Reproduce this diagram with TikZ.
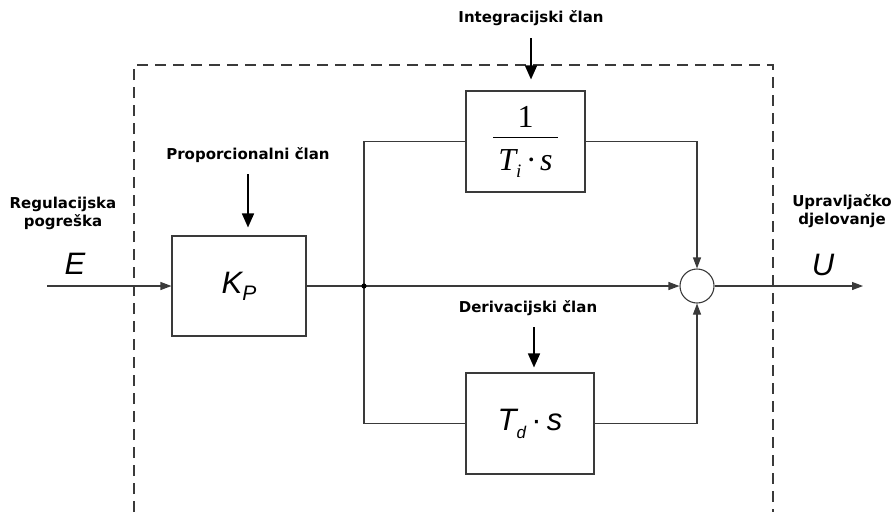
\documentclass[tikz,border=0pt]{standalone}
\usepackage{fontspec}
\newfontfamily\labelfont{DejaVu Sans}
\newfontfamily\sansmath{Liberation Sans}
\newfontfamily\serifmath{Liberation Serif}
\usetikzlibrary{arrows.meta}
\definecolor{wirecol}{HTML}{3A3A3A}

\begin{document}
\begin{tikzpicture}[x=1pt, y=-1pt,
    wire/.style={draw=wirecol, line width=1.1pt},
    sig/.style={wire, -{Triangle[length=11pt,width=8pt]}},
    hint/.style={line width=1.6pt, -{Triangle[length=14pt,width=12pt]}},
    block/.style={draw=wirecol, line width=1.1pt, inner sep=0pt},
    caption/.style={font=\labelfont\bfseries\fontsize{15}{18}\selectfont, align=center},
    bigsym/.style={font=\sansmath\itshape\fontsize{31}{31}\selectfont}]

      \useasboundingbox (0,0) rectangle (893,512);

      % controller border
      \draw[wirecol, line width=1.2pt, dash pattern=on 11pt off 7pt] (134,512) |- (773,65) -- (773,512);

      % blocks
      \node[block, minimum width=134pt, minimum height=100pt] (kp) at (239,286)
        {\sansmath\itshape\fontsize{31}{31}\selectfont K\raisebox{-7pt}{\fontsize{21}{21}\selectfont P}};
      \node[block, minimum width=119pt, minimum height=101pt] (int) at (525.5,141.5)
        {\serifmath\fontsize{32}{32}\selectfont$\displaystyle\frac{\hbox{1\rule[-7pt]{0pt}{7pt}}}{\hbox{\kern5pt\rule{0pt}{31pt}\itshape T\raisebox{-7pt}{\fontsize{19}{19}\selectfont i}\,\char"00B7\,s\kern5pt}}$};
      \node[block, minimum width=128pt, minimum height=101pt] (der) at (530,423.5)
        {\sansmath\itshape\fontsize{31}{31}\selectfont T\raisebox{-8pt}{\fontsize{17}{17}\selectfont d}\,\upshape\char"00B7\,\itshape s};
      \node[block, circle, minimum size=34pt] (sum) at (697,286) {};

      \coordinate (in) at (47,286);
      \coordinate (out) at (863,286);
      \coordinate (split) at (364,286);

      % signal lines
      \draw[sig] (in) -- (kp.west);
      \draw[wire] (kp.east) -- (split);
      \draw[sig] (split) -- (sum.west);
      \draw[wire] (split) |- (int.west);
      \draw[wire] (split) |- (der.west);
      \draw[sig] (int.east) -| (sum.north);
      \draw[sig] (der.east) -| (sum.south);
      \draw[sig] (sum.east) -- (out);
      \fill (split) circle (2.6pt);

      % captions
      \node[caption] (intlbl) at (531,18) {Integracijski član};
      \node[caption] (kplbl) at (248,155) {Proporcionalni član};
      \node[caption] (derlbl) at (528,308) {Derivacijski član};
      \node[caption] (errlbl) at (63,213) {Regulacijska\\pogreška};
      \node[caption] (outlbl) at (842,211) {Upravljačko\\djelovanje};
      \node[bigsym] (E) at (75,264) {E};
      \node[bigsym] (U) at (823,265) {U};

      \coordinate (intarr) at (531,38);
      \coordinate (kparr) at (248,174);
      \coordinate (derarr) at (534,327);
      \draw[hint, shorten >=11pt] (intarr) -- (int.north -| intarr);
      \draw[hint, shorten >=8pt] (kparr) -- (kp.north -| kparr);
      \draw[hint, shorten >=5pt] (derarr) -- (der.north -| derarr);
    \end{tikzpicture}
\end{document}
